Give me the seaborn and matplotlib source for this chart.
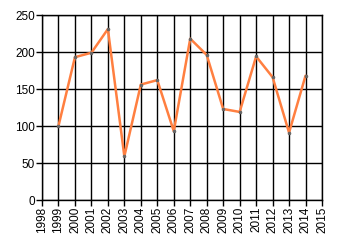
import matplotlib
matplotlib.use("Agg")
import matplotlib.pyplot as plt
import seaborn as sns
import pandas as pd

years = [1999, 2000, 2001, 2002, 2003, 2004, 2005, 2006, 2007, 2008, 2009, 2010, 2011, 2012, 2013, 2014]
values = [100, 193, 199, 231, 59, 156, 162, 93, 218, 196, 123, 119, 194, 166, 91, 168]
x_ticks = list(range(1998, 2016))
y_ticks = [0, 50, 100, 150, 200, 250]

sns.set_theme(style="white")
plt.rcParams['font.family'] = ['Liberation Sans', 'DejaVu Sans']

df = pd.DataFrame({"year": years, "value": values})

fig = plt.figure(figsize=(3.4, 2.45), dpi=100)
ax = fig.add_axes([42/340, 1-200/245, 280/340, 185/245])

sns.lineplot(data=df, x="year", y="value", ax=ax, color="#FF7F40", linewidth=1.8,
             marker="o", markersize=1.8, markerfacecolor="#666666", markeredgecolor="#666666")

ax.set_xlim(1998, 2015)
ax.set_ylim(0, 250)
ax.set_xticks(x_ticks)
ax.set_xticklabels([str(t) for t in x_ticks], rotation=90)
ax.set_yticks(y_ticks)
ax.grid(True, color="black", linewidth=1)
ax.set_axisbelow(True)
for s in ax.spines.values():
    s.set_color("black")
    s.set_linewidth(1)
ax.tick_params(axis="both", direction="out", length=4, width=1, color="black",
               labelsize=8.5, labelcolor="black", pad=1, bottom=True, left=True)
ax.set_xlabel("")
ax.set_ylabel("")

fig.savefig("out.png", dpi=100)
